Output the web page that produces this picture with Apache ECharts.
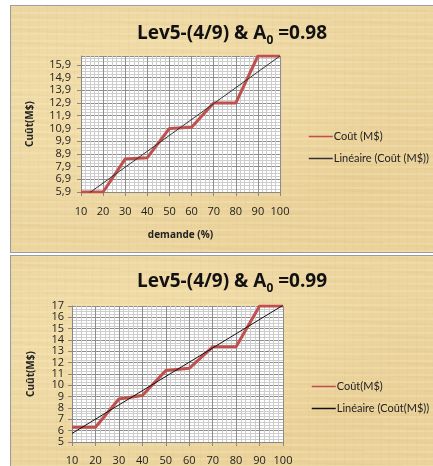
<!DOCTYPE html>
<html>
<head>
<meta charset="utf-8">
<script src="https://cdn.jsdelivr.net/npm/echarts@6/dist/echarts.min.js"></script>
<style>
  html, body { margin: 0; padding: 0; background: #fff; width: 433px; height: 466px; overflow: hidden; }
  .panel {
    position: absolute;
    left: 10px;
    width: 440px;
    border: 1px solid #9c9c9c;
    box-sizing: border-box;
    background-color: #ecd59f;
    background-image:
      repeating-linear-gradient(0deg, rgba(255,246,214,0.18) 0px, rgba(255,246,214,0.18) 2px, rgba(0,0,0,0) 2px, rgba(0,0,0,0) 7px),
      repeating-linear-gradient(90deg, rgba(190,150,80,0.07) 0px, rgba(190,150,80,0.07) 1px, rgba(0,0,0,0) 1px, rgba(0,0,0,0) 9px),
      repeating-linear-gradient(3deg, rgba(200,160,90,0.06) 0px, rgba(200,160,90,0.06) 3px, rgba(0,0,0,0) 3px, rgba(0,0,0,0) 13px),
      radial-gradient(ellipse at 30% 40%, rgba(250,234,186,0.5), rgba(0,0,0,0) 60%),
      radial-gradient(ellipse at 75% 70%, rgba(225,195,130,0.3), rgba(0,0,0,0) 55%);
  }
  #p1 { top: 5px; height: 248px; }
  #p2 { top: 255px; height: 220px; }
  #chart { position: absolute; left: 0; top: 0; width: 433px; height: 466px; }
</style>
</head>
<body>
<div class="panel" id="p1"></div>
<div class="panel" id="p2"></div>
<div id="chart"></div>
<script>
// demand levels (%) shared by both panels
const demande = [10, 20, 30, 40, 50, 60, 70, 80, 90, 100];
// cost (M$) for A0 = 0.98
const cout98 = [5.9, 5.9, 8.5, 8.6, 10.9, 11.0, 12.9, 12.9, 16.6, 16.6];
// cost (M$) for A0 = 0.99
const cout99 = [6.3, 6.3, 8.8, 9.1, 11.3, 11.5, 13.4, 13.4, 17, 17];

// least-squares trend line through a series, evaluated at both ends of the x range
function trend(xs, ys) {
  const n = xs.length;
  const mx = xs.reduce((a, b) => a + b, 0) / n;
  const my = ys.reduce((a, b) => a + b, 0) / n;
  let sxy = 0, sxx = 0;
  for (let i = 0; i < n; i++) { sxy += (xs[i] - mx) * (ys[i] - my); sxx += (xs[i] - mx) ** 2; }
  const b = sxy / sxx, a = my - b * mx;
  const x0 = xs[0], x1 = xs[n - 1];
  return [[x0, a + b * x0], [x1, a + b * x1]];
}
const pairs = (xs, ys) => xs.map((x, i) => [x, ys[i]]);

const FONT = 'Open Sans';
const txt = '#222';
const gridMajor = '#8d8d8d';
const gridMinor = '#cdcdcd';

function xAxisCfg(gridIndex, withName, margin) {
  return {
    type: 'value', gridIndex, min: 10, max: 100, interval: 10,
    name: withName ? 'demande (%)' : '',
    nameLocation: 'middle', nameGap: 38,
    nameTextStyle: { fontFamily: FONT, fontWeight: 'bold', fontSize: 10, color: txt },
    axisLine: { show: true, lineStyle: { color: '#888', width: 1 } },
    axisTick: { show: true, length: 4, lineStyle: { color: '#888' } },
    axisLabel: { fontFamily: FONT, fontSize: 11, color: txt, margin },
    splitLine: { show: true, lineStyle: { color: gridMajor, width: 1 } },
    minorTick: { show: false, splitNumber: 5 },
    minorSplitLine: { show: true, lineStyle: { color: gridMinor, width: 1 } }
  };
}
function yAxisCfg(gridIndex, min, max, nameGap, margin, comma) {
  return {
    type: 'value', gridIndex, min, max, interval: 1,
    name: 'Cuût(M$)', nameLocation: 'middle', nameGap,
    nameTextStyle: { fontFamily: FONT, fontWeight: 'bold', fontSize: 10, color: txt },
    axisLine: { show: true, lineStyle: { color: '#888', width: 1 } },
    axisTick: { show: true, length: 4, lineStyle: { color: '#888' } },
    axisLabel: {
      fontFamily: FONT, fontSize: 11, color: txt, margin, showMaxLabel: !comma,
      formatter: v => comma ? (Math.round(v * 10) / 10).toFixed(1).replace('.', ',') : String(Math.round(v))
    },
    splitLine: { show: true, lineStyle: { color: gridMajor, width: 1 } },
    minorTick: { show: false, splitNumber: 4 },
    minorSplitLine: { show: true, lineStyle: { color: gridMinor, width: 1 } }
  };
}

const titleRich = {
  a: { fontFamily: FONT, fontWeight: 'bold', fontSize: 19, color: '#111', lineHeight: 26 },
  s: { fontFamily: FONT, fontWeight: 'bold', fontSize: 12, color: '#111', lineHeight: 14, verticalAlign: 'bottom' }
};

const legendText = { fontFamily: 'Lato', fontSize: 11, color: txt, padding: [0, 0, 0, -4] };

const chart = echarts.init(document.getElementById('chart'), null, { renderer: 'canvas' });
chart.setOption({
  backgroundColor: 'transparent',
  animation: false,
  title: [
    { text: '{a|Lev5-(4/9) & A}{s|0}{a| =0.98}', left: 227, top: 16, textAlign: 'center', textStyle: { rich: titleRich } },
    { text: '{a|Lev5-(4/9) & A}{s|0}{a| =0.99}', left: 227, top: 264, textAlign: 'center', textStyle: { rich: titleRich } }
  ],
  legend: [
    {
      orient: 'vertical', left: 308, top: 131, itemWidth: 24, itemHeight: 12, itemGap: 11, padding: 0,
      textStyle: legendText, itemStyle: { opacity: 0 }, lineStyle: { width: 1.5 },
      data: ['Coût (M$)', 'Linéaire (Coût (M$))']
    },
    {
      orient: 'vertical', left: 311, top: 381, itemWidth: 24, itemHeight: 12, itemGap: 11, padding: 0,
      textStyle: legendText, itemStyle: { opacity: 0 }, lineStyle: { width: 1.5 },
      data: ['Coût(M$)', 'Linéaire (Coût(M$))']
    }
  ],
  grid: [
    { left: 81, top: 56, width: 199, height: 136, show: true, backgroundColor: '#ffffff', borderWidth: 0 },
    { left: 72, top: 306, width: 211, height: 136, show: true, backgroundColor: '#ffffff', borderWidth: 0 }
  ],
  xAxis: [xAxisCfg(0, true, 14), xAxisCfg(1, false, 13)],
  yAxis: [yAxisCfg(0, 5.9, 16.6, 46, 10, true), yAxisCfg(1, 5, 17, 36, 8, false)],
  series: [
    {
      name: 'Coût (M$)', type: 'line', xAxisIndex: 0, yAxisIndex: 0,
      data: pairs(demande, cout98), symbol: 'none',
      lineStyle: { color: '#c0504d', width: 3 }, itemStyle: { color: '#c0504d' }, z: 3
    },
    {
      name: 'Linéaire (Coût (M$))', type: 'line', xAxisIndex: 0, yAxisIndex: 0,
      data: trend(demande, cout98), symbol: 'none', clip: true,
      lineStyle: { color: '#333', width: 1 }, itemStyle: { color: '#333' }, z: 4
    },
    {
      name: 'Coût(M$)', type: 'line', xAxisIndex: 1, yAxisIndex: 1,
      data: pairs(demande, cout99), symbol: 'none',
      lineStyle: { color: '#c0504d', width: 3 }, itemStyle: { color: '#c0504d' }, z: 3
    },
    {
      name: 'Linéaire (Coût(M$))', type: 'line', xAxisIndex: 1, yAxisIndex: 1,
      data: trend(demande, cout99), symbol: 'none', clip: true,
      lineStyle: { color: '#111', width: 1 }, itemStyle: { color: '#111' }, z: 4
    }
  ]
});
</script>
</body>
</html>
